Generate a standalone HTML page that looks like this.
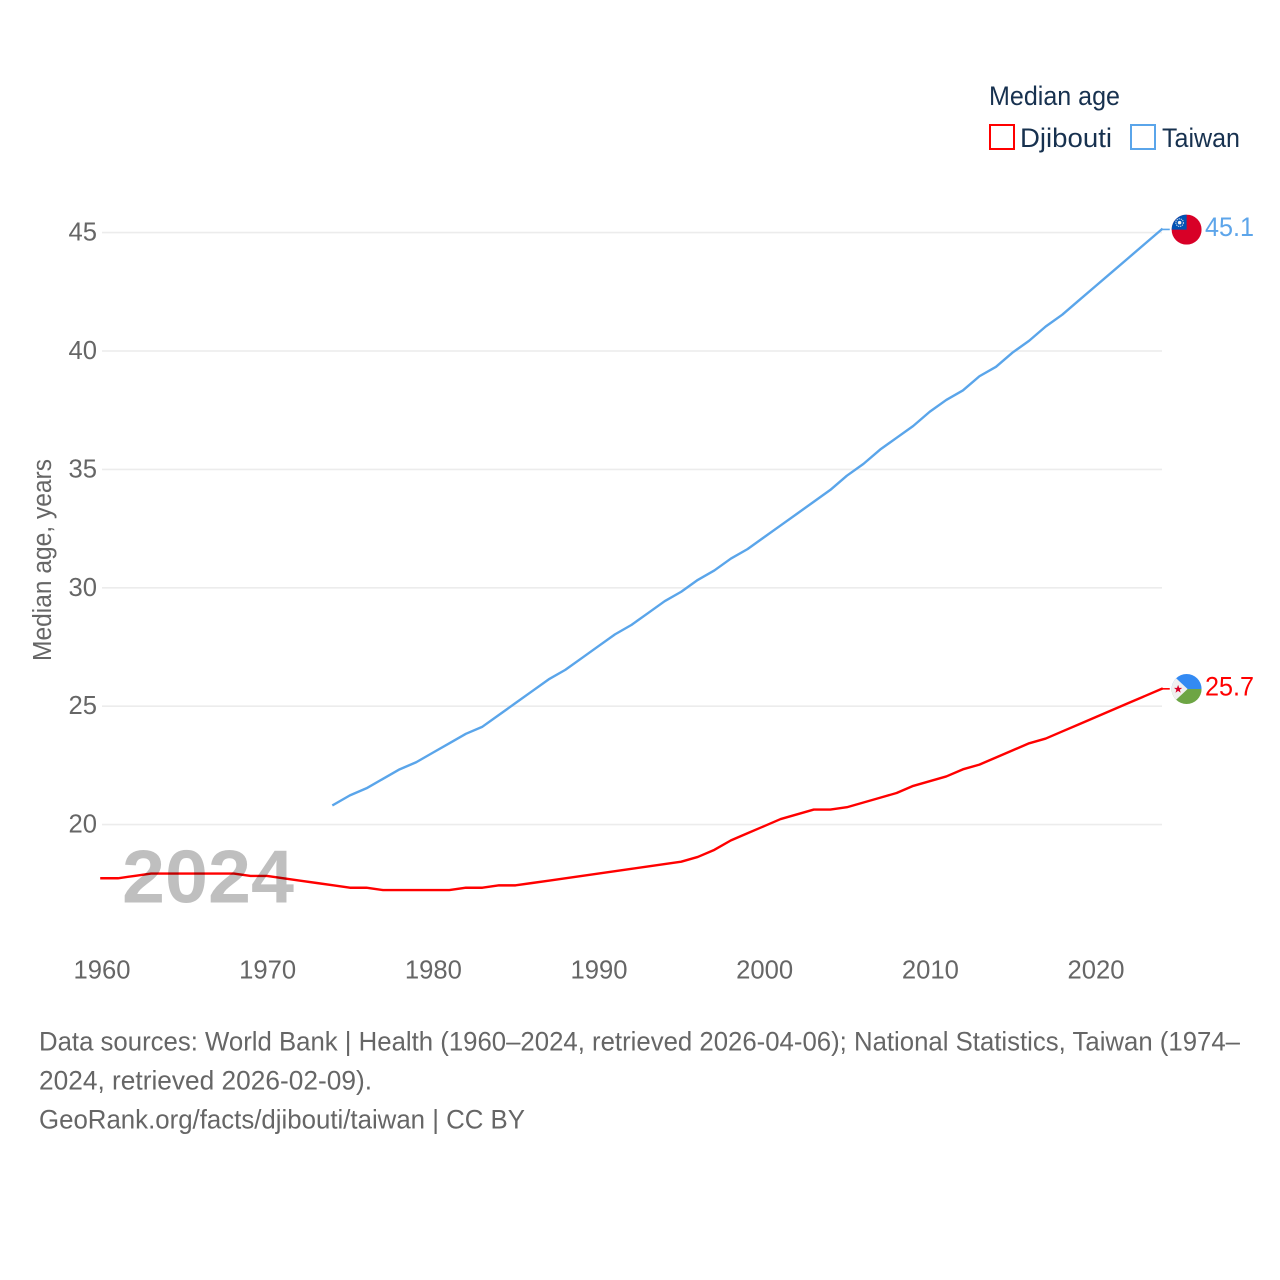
<!DOCTYPE html>
<html lang="en">
<head>
<meta charset="utf-8">
<title>Median age: Djibouti and Taiwan</title>
<style>
  html, body { margin: 0; padding: 0; background: #fff; }
  body { width: 1280px; height: 1280px; overflow: hidden; }
  svg { display: block; font-family: "Liberation Sans", "DejaVu Sans", sans-serif; }
</style>
</head>
<body>
<svg id="chart" xmlns="http://www.w3.org/2000/svg" width="1280" height="1280" viewBox="0 0 1280 1280">
  <defs>
    <clipPath id="flag-clip"><circle cx="0" cy="0" r="15"></circle></clipPath>
  </defs>
  <rect x="0" y="0" width="1280" height="1280" fill="#ffffff"></rect>
  <g id="grid"></g>
  <g id="y-ticks"></g>
  <g id="x-ticks"></g>
  <text transform="translate(51 661) rotate(-90)" font-size="25.5" fill="#666666" textLength="202" lengthAdjust="spacingAndGlyphs">Median age, years</text>
  <g id="series"></g>
  <text x="122" y="902.5" font-size="75" font-weight="700" fill="#000000" fill-opacity="0.25" textLength="172" lengthAdjust="spacingAndGlyphs">2024</text>

  <g>
    <text x="989" y="105" font-size="26.5" fill="#17314f" textLength="131" lengthAdjust="spacingAndGlyphs">Median age</text>
    <g>
      <rect x="990" y="125" width="24" height="24" fill="none" stroke="#ff0000" stroke-width="2"></rect>
      <text x="1020" y="147" font-size="26.5" fill="#17314f" textLength="92" lengthAdjust="spacingAndGlyphs">Djibouti</text>
    </g>
    <g>
      <rect x="1131" y="125" width="24" height="24" fill="none" stroke="#5aa5ea" stroke-width="2"></rect>
      <text x="1162" y="147" font-size="26.5" fill="#17314f" textLength="78" lengthAdjust="spacingAndGlyphs">Taiwan</text>
    </g>
  </g>

  <g font-size="26.5" fill="#666666">
    <text x="39" y="1050.5" textLength="1201" lengthAdjust="spacingAndGlyphs">Data sources: World Bank | Health (1960–2024, retrieved 2026-04-06); National Statistics, Taiwan (1974–</text>
    <text x="39" y="1089.5" textLength="333" lengthAdjust="spacingAndGlyphs">2024, retrieved 2026-02-09).</text>
    <text x="39" y="1128.5" textLength="486" lengthAdjust="spacingAndGlyphs">GeoRank.org/facts/djibouti/taiwan | CC BY</text>
  </g>
</svg>
<script>
const yTickValues = [20, 25, 30, 35, 40, 45];
const xTickValues = [1960, 1970, 1980, 1990, 2000, 2010, 2020];
const djiboutiStartYear = 1960;
const djiboutiValues = [17.7, 17.7, 17.8, 17.9, 17.9, 17.9, 17.9, 17.9, 17.9, 17.8, 17.8, 17.7, 17.6, 17.5, 17.4, 17.3, 17.3, 17.2, 17.2, 17.2, 17.2, 17.2, 17.3, 17.3, 17.4, 17.4, 17.5, 17.6, 17.7, 17.8, 17.9, 18.0, 18.1, 18.2, 18.3, 18.4, 18.6, 18.9, 19.3, 19.6, 19.9, 20.2, 20.4, 20.6, 20.6, 20.7, 20.9, 21.1, 21.3, 21.6, 21.8, 22.0, 22.3, 22.5, 22.8, 23.1, 23.4, 23.6, 23.9, 24.2, 24.5, 24.8, 25.1, 25.4, 25.7];
const taiwanStartYear = 1974;
const taiwanValues = [20.8, 21.2, 21.5, 21.9, 22.3, 22.6, 23.0, 23.4, 23.8, 24.1, 24.6, 25.1, 25.6, 26.1, 26.5, 27.0, 27.5, 28.0, 28.4, 28.9, 29.4, 29.8, 30.3, 30.7, 31.2, 31.6, 32.1, 32.6, 33.1, 33.6, 34.1, 34.7, 35.2, 35.8, 36.3, 36.8, 37.4, 37.9, 38.3, 38.9, 39.3, 39.9, 40.4, 41.0, 41.5, 42.1, 42.7, 43.3, 43.9, 44.5, 45.1];

const NS = 'http://www.w3.org/2000/svg';
const PLOT_LEFT = 102;
const PLOT_RIGHT = 1162;
const X_BASELINE = 979;
const LINE_SHIFT_X = -0.6;
const LINE_SHIFT_Y = -0.8;

function xScale(year) {
  return 102 + (year - 1960) * (1096 - 102) / 60;
}
function yScale(value) {
  return 824.6 - (value - 20) * (824.6 - 232.6) / 25;
}
function make(tag, attrs, parent) {
  const el = document.createElementNS(NS, tag);
  for (const key in attrs) el.setAttribute(key, attrs[key]);
  parent.appendChild(el);
  return el;
}

const gridGroup = document.getElementById('grid');
const yTickGroup = document.getElementById('y-ticks');
const xTickGroup = document.getElementById('x-ticks');
const seriesGroup = document.getElementById('series');

yTickValues.forEach(function (value) {
  const y = yScale(value);
  const line = make('line', { x1: PLOT_LEFT, x2: PLOT_RIGHT, y1: y, y2: y, stroke: '#ececec', 'stroke-width': 1.6 }, gridGroup);
  
  
  const label = make('text', { x: 68.5, y: y + 8, 'font-size': 25.5, fill: '#666666', textLength: 28.5, lengthAdjust: 'spacingAndGlyphs' }, yTickGroup);
  label.textContent = String(value);
  
  
});

xTickValues.forEach(function (year) {
  const label = make('text', { x: xScale(year), y: X_BASELINE - 0.4, 'font-size': 25.5, fill: '#666666', 'text-anchor': 'middle', textLength: 57, lengthAdjust: 'spacingAndGlyphs' }, xTickGroup);
  label.textContent = String(year);
  
  
});

function drawSeries(key, startYear, values, color) {
  const points = values.map(function (value, i) {
    return (xScale(startYear + i) + LINE_SHIFT_X).toFixed(2) + ',' + (yScale(value) + LINE_SHIFT_Y).toFixed(2);
  });
  const last = values[values.length - 1];
  const lastX = xScale(startYear + values.length - 1);
  const lastY = yScale(last);

  const line = make('polyline', { points: points.join(' '), fill: 'none', stroke: color, 'stroke-width': 2.4, 'stroke-linejoin': 'round', 'stroke-linecap': 'square' }, seriesGroup);
  
  

  const connector = make('line', { x1: lastX, x2: lastX + 7.5, y1: lastY + LINE_SHIFT_Y, y2: lastY + LINE_SHIFT_Y, stroke: color, 'stroke-width': 1.6 }, seriesGroup);
  
  

  const flag = make('g', { transform: 'translate(1186.6 ' + (lastY - 0.6).toFixed(2) + ')', 'clip-path': 'url(#flag-clip)' }, seriesGroup);
  
  
  if (key === 'taiwan') {
    make('rect', { x: -15, y: -15, width: 30, height: 30, fill: '#d80027' }, flag);
    make('rect', { x: -15, y: -15, width: 15, height: 15, fill: '#0052b4' }, flag);
    make('circle', { cx: -7, cy: -7, r: 3.8, fill: 'none', stroke: '#f0f0f0', 'stroke-width': 1.1, 'stroke-dasharray': '1.3 0.8', 'stroke-opacity': 0.8 }, flag);
    make('circle', { cx: -7, cy: -7, r: 1.8, fill: '#f0f0f0' }, flag);
  } else {
    make('rect', { x: -15, y: -15, width: 30, height: 15, fill: '#338af3' }, flag);
    make('rect', { x: -15, y: 0, width: 30, height: 15, fill: '#6da544' }, flag);
    make('polygon', { points: '-15,-15 1,0 -15,15', fill: '#f0f0f0' }, flag);
    make('polygon', { points: '-8.5,-4.2 -7.4,-1.2 -4.4,-1.2 -6.8,0.7 -5.9,3.7 -8.5,1.9 -11.1,3.7 -10.2,0.7 -12.6,-1.2 -9.6,-1.2', fill: '#d80027' }, flag);
  }

  const valueLabel = make('text', { x: 1205, y: lastY + 6, 'font-size': 26.5, fill: color === '#5aa5ea' ? '#5da5ea' : color, textLength: 49, lengthAdjust: 'spacingAndGlyphs' }, seriesGroup);
  valueLabel.textContent = last.toFixed(1);
  
  
}

drawSeries('taiwan', taiwanStartYear, taiwanValues, '#5aa5ea');
drawSeries('djibouti', djiboutiStartYear, djiboutiValues, '#ff0000');
</script>
</body>
</html>
